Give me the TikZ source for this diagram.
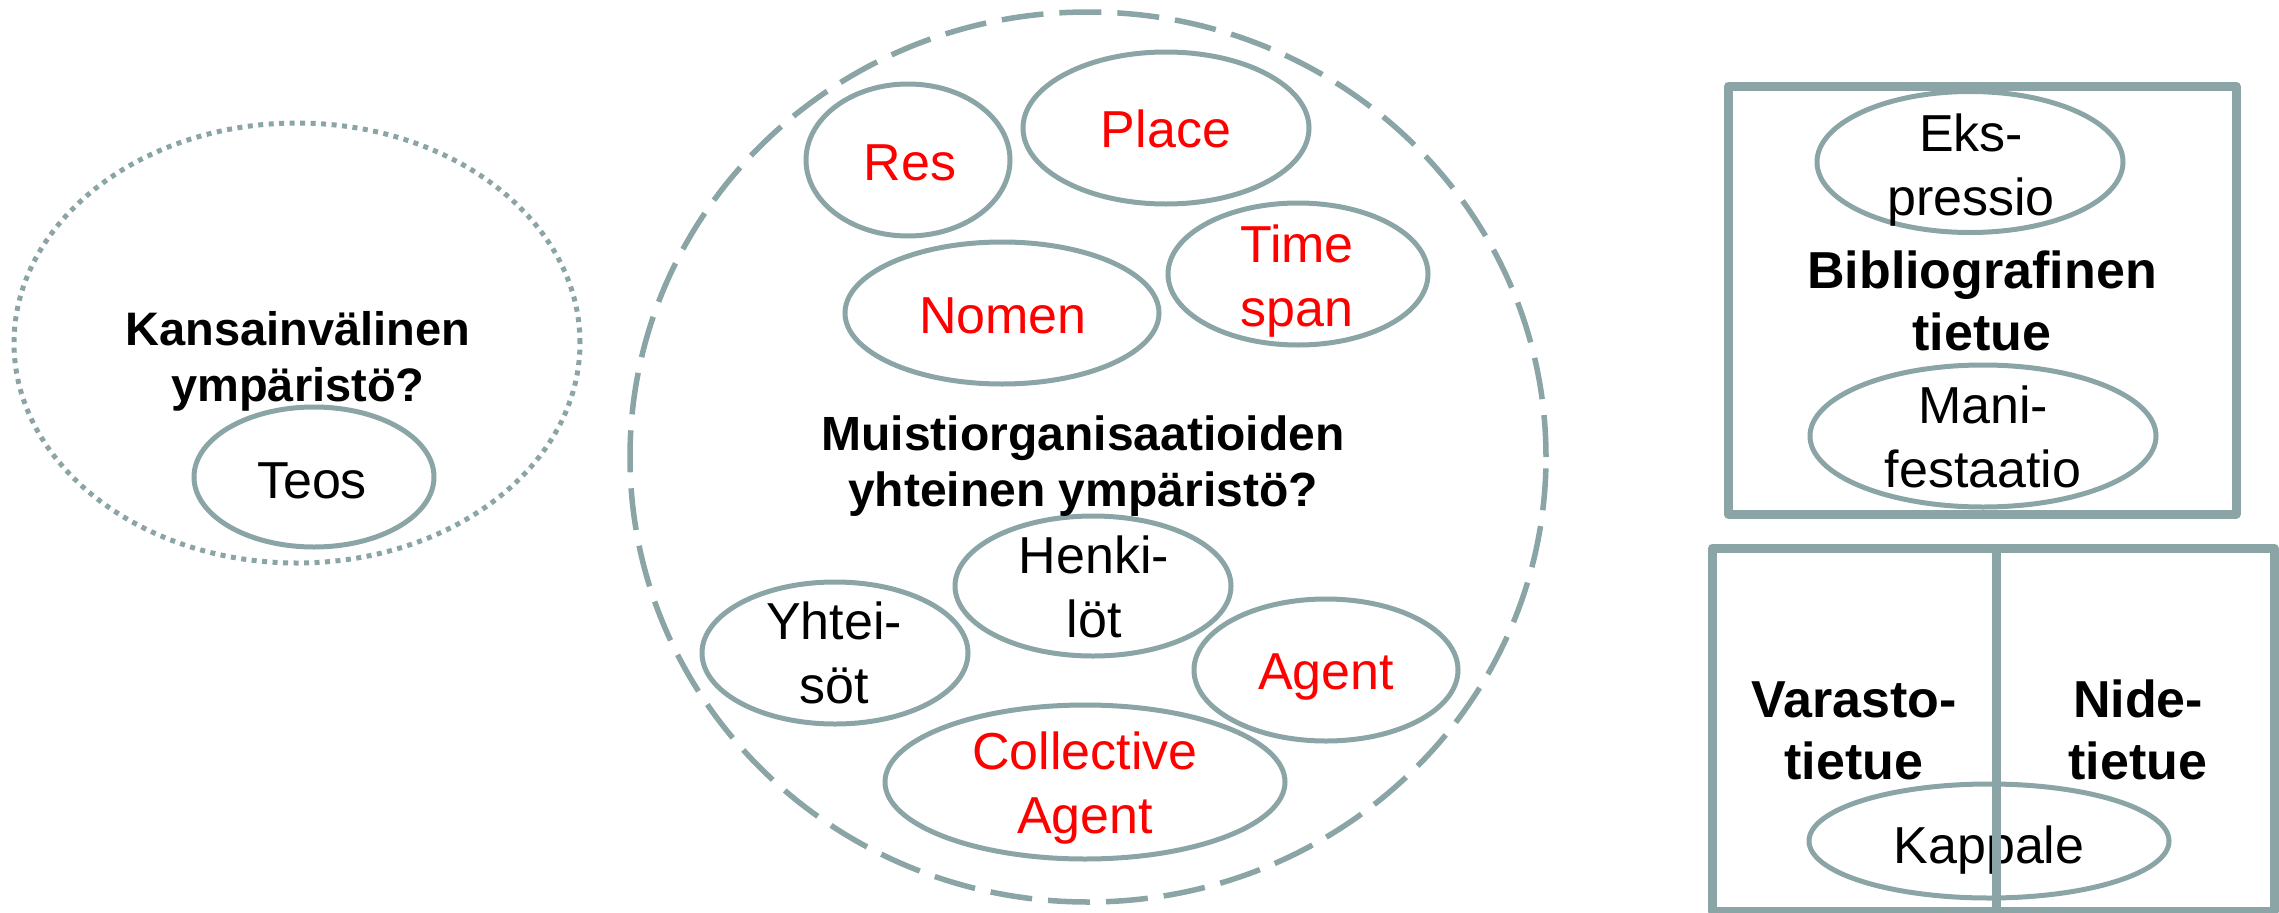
\documentclass[tikz,border=0pt]{standalone}
\usepackage{fontspec}
\setmainfont{Liberation Sans}
\usetikzlibrary{shapes.geometric}
\definecolor{edgegray}{RGB}{139,165,166}
\definecolor{lblred}{RGB}{255,0,0}
\begin{document}
\begin{tikzpicture}[x=1pt,y=-1pt,
  oval/.style={ellipse, draw=edgegray, line width=5pt, inner sep=0pt},
  lbl/.style={font=\fontsize{52}{64}\selectfont, align=center, anchor=base, inner sep=0pt},
  redlbl/.style={lbl, text=lblred},
  ttl/.style={font=\fontsize{48}{56}\selectfont\bfseries, align=center, anchor=base, inner sep=0pt},
  bigttl/.style={font=\fontsize{52}{61.5}\selectfont\bfseries, align=center, anchor=base, inner sep=0pt},
  recbox/.style={rectangle, draw=edgegray, line width=9pt, line join=round, inner sep=0pt},
]
\useasboundingbox (0,0) rectangle (2279,913);

% left: international environment
\node[ellipse, draw=edgegray, line width=5pt, dash pattern=on 5pt off 5.5pt, inner sep=0pt,
      minimum width=566pt, minimum height=440pt] (intl) at (297,343) {};
\node[oval, minimum width=240pt, minimum height=140pt] (teos) at (314,477) {};
\node[ttl, font=\fontsize{47}{56}\selectfont\bfseries] (intltxt) at (298,401) {Kansainvälinen\\ympäristö?};
\node[lbl] (teostxt) at (312,498) {Teos};

% middle: memory organisations
\node[ellipse, draw=edgegray, line width=5.5pt, dash pattern=on 42pt off 16pt, inner sep=0pt,
      minimum width=916pt, minimum height=890pt] (mem) at (1088,457) {};
\node[oval, minimum width=204pt, minimum height=152pt] (res) at (908,160) {};
\node[oval, minimum width=286pt, minimum height=152pt] (place) at (1166,128) {};
\node[oval, minimum width=314pt, minimum height=142pt] (nomen) at (1002,313) {};
\node[oval, minimum width=260pt, minimum height=142pt] (time) at (1298,274) {};
\node[oval, minimum width=276pt, minimum height=140pt] (henk) at (1093,586) {};
\node[oval, minimum width=266pt, minimum height=142pt] (yht) at (835,653) {};
\node[oval, minimum width=264pt, minimum height=142pt] (agent) at (1326,670) {};
\node[oval, minimum width=400pt, minimum height=154pt] (coll) at (1085,782) {};

\node[redlbl] (restxt) at (910,180) {Res};
\node[redlbl] (placetxt) at (1166,147) {Place};
\node[redlbl] (nomentxt) at (1003,333) {Nomen};
\node[redlbl] (timetxt) at (1297,326) {Time\\span};
\node[ttl] (memtxt) at (1083,506) {Muistiorganisaatioiden\\yhteinen ympäristö?};
\node[lbl] (henktxt) at (1094,637) {Henki-\\löt};
\node[lbl] (yhttxt) at (834,703) {Yhtei-\\söt};
\node[redlbl] (agenttxt) at (1326,689) {Agent};
\node[redlbl] (colltxt) at (1085,833) {Collective\\Agent};

% right top: bibliographic record
\node[recbox, minimum width=508pt, minimum height=428pt] (bib) at (1982,300) {};
\node[oval, minimum width=306pt, minimum height=141pt] (eks) at (1970,162) {};
\node[oval, minimum width=346pt, minimum height=142pt] (mani) at (1983,436) {};
\node[lbl] (ekstxt) at (1971,215) {Eks-\\pressio};
\node[bigttl] (bibtxt) at (1982,350) {Bibliografinen\\tietue};
\node[lbl] (manitxt) at (1983,487) {Mani-\\festaatio};

% right bottom: holdings / item records
\node[oval, minimum width=360pt, minimum height=114pt] (kap) at (1989,841) {};
\node[lbl] (kaptxt) at (1989,863) {Kappale};
\node[recbox, minimum width=284pt, minimum height=363pt] (varbox) at (1854,729.5) {};
\node[recbox, minimum width=278pt, minimum height=363pt] (nidebox) at (2135,729.5) {};
\node[bigttl] (vartxt) at (1854,779) {Varasto-\\tietue};
\node[bigttl] (nidetxt) at (2138,779) {Nide-\\tietue};
\end{tikzpicture}
\end{document}
